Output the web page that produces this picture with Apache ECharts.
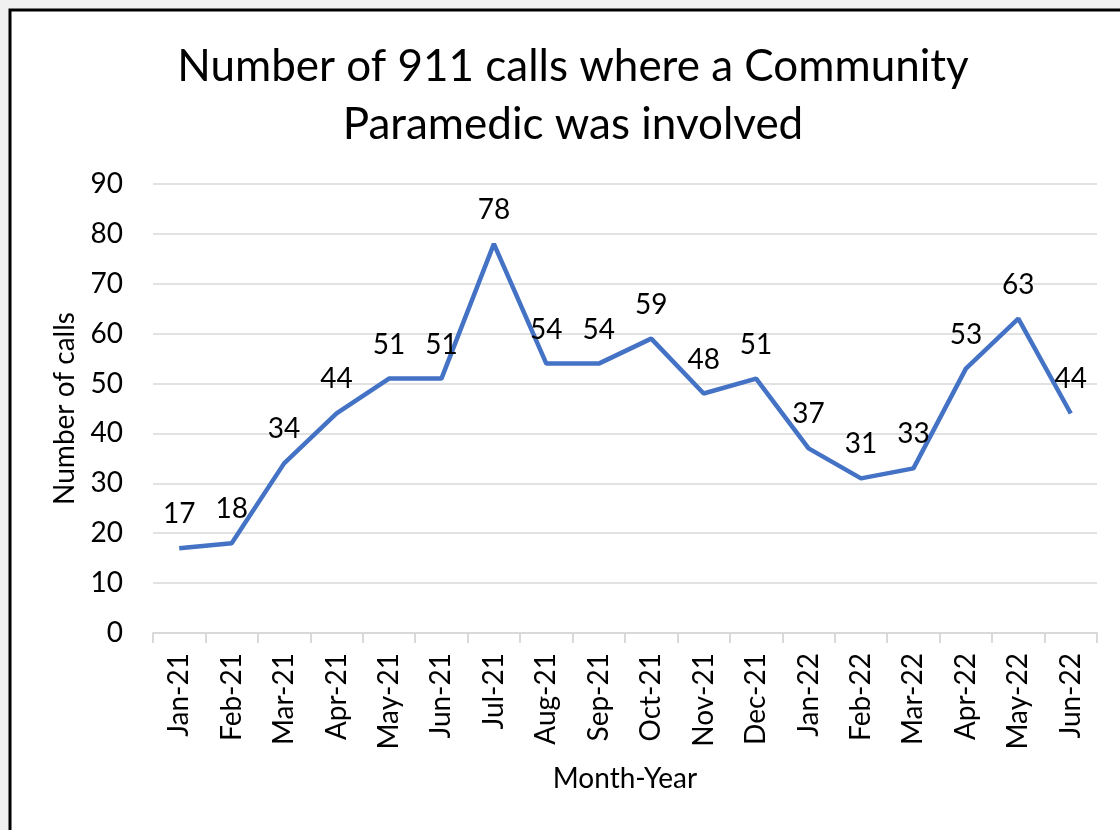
<!DOCTYPE html>
<html>
<head>
<meta charset="utf-8">
<script src="https://cdn.jsdelivr.net/npm/echarts@6/dist/echarts.min.js"></script>
</head>
<body style="margin:0">
<div id="container" style="width:1120px;height:830px;"></div>
<script>
// months and call counts
var months = ['Jan-21','Feb-21','Mar-21','Apr-21','May-21','Jun-21','Jul-21','Aug-21','Sep-21','Oct-21','Nov-21','Dec-21','Jan-22','Feb-22','Mar-22','Apr-22','May-22','Jun-22'];
var calls = [17,18,34,44,51,51,78,54,54,59,48,51,37,31,33,53,63,44];

var font = 'Lato, "Open Sans", sans-serif';
var myChart = echarts.init(document.getElementById('container'));

var option = {
    backgroundColor: '#f0f0f0',
    animation: false,
    textStyle: { fontFamily: font, color: '#000' },
    graphic: [{
        type: 'rect',
        z: -10,
        shape: { x: 10, y: 10, width: 1200, height: 900 },
        style: { fill: '#fff', stroke: '#000', lineWidth: 3 }
    }],
    title: {
        text: 'Number of 911 calls where a Community\nParamedic was involved',
        left: 568,
        textAlign: 'center',
        top: 33,
        textStyle: { fontFamily: font, fontSize: 44, fontWeight: 'normal', color: '#000', lineHeight: 58 }
    },
    grid: { left: 153, right: 23, top: 184, bottom: 197 },
    xAxis: {
        type: 'category',
        data: months,
        boundaryGap: true,
        name: 'Month-Year',
        nameLocation: 'middle',
        nameGap: 132,
        nameTextStyle: { fontSize: 28, color: '#000', fontFamily: font },
        axisLine: { lineStyle: { color: '#d9d9d9', width: 2 } },
        axisTick: { show: true, length: 10, lineStyle: { color: '#d9d9d9', width: 2 } },
        axisLabel: { rotate: 90, fontSize: 28, color: '#000', margin: 20, fontFamily: font }
    },
    yAxis: {
        type: 'value',
        min: 0,
        max: 90,
        interval: 10,
        name: 'Number of calls',
        nameLocation: 'middle',
        nameGap: 74,
        nameTextStyle: { fontSize: 28, color: '#000', fontFamily: font },
        axisLine: { show: false },
        axisTick: { show: false },
        axisLabel: { fontSize: 28, color: '#000', margin: 30, fontFamily: font },
        splitLine: { lineStyle: { color: '#d9d9d9', width: 1.5 } }
    },
    series: [{
        type: 'line',
        data: calls,
        symbol: 'circle',
        symbolSize: 0.1,
        showSymbol: true,
        itemStyle: { color: '#4472c4' },
        lineStyle: { color: '#4472c4', width: 4.5 },
        label: { show: true, position: 'top', distance: 20, fontSize: 28, color: '#000', fontFamily: font }
    }]
};
myChart.setOption(option);
</script>
</body>
</html>
